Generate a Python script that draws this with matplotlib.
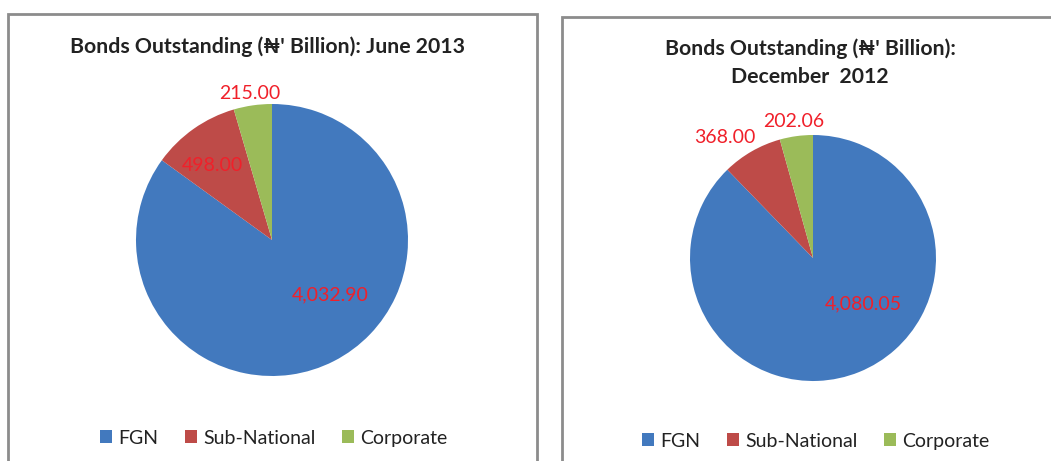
import matplotlib
matplotlib.use("Agg")
import matplotlib.pyplot as plt
from matplotlib.patches import Rectangle, Patch

plt.rcParams['font.family'] = ['Lato', 'DejaVu Sans']

categories = ["FGN", "Sub-National", "Corporate"]
june_2013 = [4032.90, 498.00, 215.00]
dec_2012 = [4080.05, 368.00, 202.06]
june_labels = ["4,032.90", "498.00", "215.00"]
dec_labels = ["4,080.05", "368.00", "202.06"]

colors = ["#4279BE", "#BE4B48", "#9BBB59"]
W, H = 1051, 461

fig = plt.figure(figsize=(W / 100, H / 100), dpi=100)


def px_axes(cx, cy, r):
    return fig.add_axes([(cx - r) / W, (H - cy - r) / H, 2 * r / W, 2 * r / H])


def draw_pie(ax, values, labels, label_pos):
    ax.pie(values, colors=colors, startangle=90, counterclock=False,
           radius=1, wedgeprops=dict(linewidth=0))
    # Excel "best fit" label placement, in units of the pie radius
    for lab, (x, y) in zip(labels, label_pos):
        ax.text(x, y, lab, color="#F0202A", fontsize=14, ha="center", va="center")
    ax.set_xlim(-1, 1)
    ax.set_ylim(-1, 1)
    ax.set_aspect("equal")
    ax.axis("off")


# panel frames
fig.patches.append(Rectangle((8 / W, -0.05), 529 / W, 1 - 14 / H + 0.05,
                             transform=fig.transFigure, fill=False,
                             edgecolor="#8C8C8C", linewidth=2))
fig.patches.append(Rectangle((562 / W, -0.05), 0.5, 1 - 17 / H + 0.05,
                             transform=fig.transFigure, fill=False,
                             edgecolor="#8C8C8C", linewidth=2))

ax1 = px_axes(272, 240, 136)
draw_pie(ax1, june_2013, june_labels, [(0.43, -0.40), (-0.44, 0.55), (-0.16, 1.08)])
ax2 = px_axes(813, 258, 123)
draw_pie(ax2, dec_2012, dec_labels, [(0.41, -0.37), (-0.72, 0.98), (-0.16, 1.11)])

fig.text(268 / W, 1 - 47 / H, "Bonds Outstanding (\u20a6' Billion): June 2013",
         ha="center", va="center", fontsize=15.3, fontweight="bold", color="#222222")
fig.text(810 / W, 1 - 63 / H, "Bonds Outstanding (\u20a6' Billion):\nDecember  2012",
         ha="center", va="center", fontsize=15.3, fontweight="bold", color="#222222",
         linespacing=1.5)

handles = [Patch(facecolor=c, edgecolor="none") for c in colors]
for cx, cy in [(274, 438), (816, 441)]:
    fig.legend(handles, categories, loc="center", bbox_to_anchor=(cx / W, 1 - cy / H),
               ncol=3, frameon=False, fontsize=14, handlelength=0.6, handleheight=0.6,
               handletextpad=0.35, columnspacing=1.35, labelcolor="#222222")

fig.savefig("out.png", dpi=100)
